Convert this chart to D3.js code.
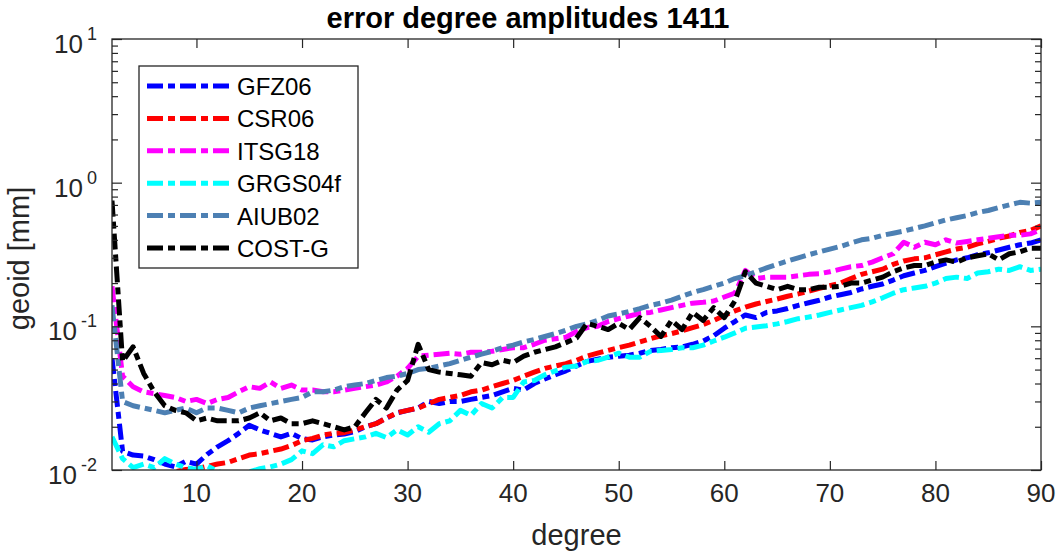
<!DOCTYPE html>
<html>
<head>
<meta charset="utf-8">
<script src="https://d3js.org/d3.v7.min.js"></script>
<style>
    body { margin: 0; background: #fff; }
    svg text { font-family: Helvetica, "Liberation Sans", Arial, sans-serif; }
</style>
</head>
<body>
<div id="chart"></div>
<script>
"use strict"

// degree axis (2..90)
var degrees = d3.range(2, 91);

var gfz06 = [
    0.06, 0.0135, 0.0127, 0.0125, 0.0118, 0.011, 0.0105, 0.0115, 0.011, 0.0128,
    0.0145, 0.016, 0.018, 0.0205, 0.019, 0.018, 0.017, 0.018, 0.0165, 0.0162,
    0.017, 0.0175, 0.0178, 0.0185, 0.020, 0.021, 0.023, 0.025, 0.026, 0.027,
    0.030, 0.029, 0.030, 0.030, 0.031, 0.032, 0.033, 0.035, 0.037, 0.036,
    0.040, 0.043, 0.046, 0.049, 0.053, 0.057, 0.059, 0.061, 0.062, 0.063,
    0.065, 0.068, 0.069, 0.071, 0.072, 0.075, 0.079, 0.086, 0.097, 0.108,
    0.12, 0.115, 0.125, 0.128, 0.133, 0.14, 0.146, 0.152, 0.16, 0.166,
    0.172, 0.182, 0.19, 0.197, 0.21, 0.225, 0.235, 0.245, 0.26, 0.275,
    0.29, 0.3, 0.315, 0.325, 0.34, 0.355, 0.37, 0.38, 0.4
];
var csr06 = [
    0.0085, 0.0087, 0.009, 0.0088, 0.0092, 0.0094, 0.0097, 0.0101, 0.0102, 0.0106,
    0.011, 0.0113, 0.012, 0.0127, 0.013, 0.0135, 0.014, 0.0148, 0.016, 0.0166,
    0.0175, 0.018, 0.0182, 0.019, 0.020, 0.021, 0.023, 0.025, 0.026, 0.027,
    0.029, 0.031, 0.032, 0.033, 0.035, 0.036, 0.038, 0.040, 0.042, 0.045,
    0.048, 0.051, 0.053, 0.055, 0.058, 0.062, 0.065, 0.068, 0.071, 0.074,
    0.078, 0.082, 0.086, 0.089, 0.093, 0.098, 0.103, 0.11, 0.119, 0.128,
    0.136, 0.143, 0.149, 0.155, 0.162, 0.168, 0.176, 0.184, 0.192, 0.2,
    0.215, 0.23, 0.24, 0.25, 0.27, 0.285, 0.295, 0.3, 0.315, 0.33,
    0.345, 0.355, 0.375, 0.39, 0.41, 0.425, 0.45, 0.465, 0.5
];
var itsg18 = [
    0.19, 0.045, 0.038, 0.035, 0.034, 0.033, 0.032, 0.030, 0.031, 0.029,
    0.031, 0.032, 0.035, 0.038, 0.037, 0.041, 0.037, 0.039, 0.036, 0.036,
    0.035, 0.035, 0.036, 0.037, 0.038, 0.039, 0.041, 0.045, 0.051, 0.062,
    0.063, 0.064, 0.065, 0.064, 0.066, 0.066, 0.067, 0.069, 0.071, 0.071,
    0.075, 0.08, 0.082, 0.084, 0.092, 0.098, 0.10, 0.108, 0.113, 0.118,
    0.123, 0.125, 0.13, 0.135, 0.14, 0.145, 0.147, 0.15, 0.16, 0.17,
    0.245, 0.215, 0.22, 0.22, 0.22, 0.225, 0.23, 0.232, 0.24, 0.25,
    0.26, 0.265, 0.28, 0.3, 0.32, 0.385, 0.355, 0.385, 0.37, 0.4,
    0.38, 0.39, 0.40, 0.41, 0.42, 0.43, 0.43, 0.44, 0.47
];
var grgs04f = [
    0.017, 0.012, 0.0104, 0.011, 0.0104, 0.012, 0.011, 0.0104, 0.0101, 0.0107,
    0.0098, 0.0092, 0.009, 0.0097, 0.0102, 0.0105, 0.011, 0.0118, 0.0136, 0.013,
    0.015, 0.0145, 0.016, 0.0165, 0.017, 0.018, 0.0168, 0.019, 0.0175, 0.020,
    0.0183, 0.021, 0.022, 0.026, 0.024, 0.029, 0.027, 0.032, 0.032, 0.041,
    0.042, 0.046, 0.049, 0.052, 0.053, 0.057, 0.058, 0.061, 0.065, 0.061,
    0.061, 0.067, 0.068, 0.069, 0.071, 0.071, 0.074, 0.079, 0.084, 0.09,
    0.097, 0.099, 0.101, 0.104, 0.108, 0.113, 0.116, 0.12, 0.125, 0.13,
    0.135, 0.14, 0.148, 0.158, 0.17, 0.18, 0.185, 0.19, 0.2, 0.215,
    0.22, 0.215, 0.235, 0.24, 0.25, 0.245, 0.26, 0.245, 0.25
];
var aiub02 = [
    0.14, 0.03, 0.028, 0.027, 0.026, 0.025, 0.026, 0.027, 0.025, 0.027,
    0.027, 0.026, 0.025, 0.027, 0.028, 0.029, 0.030, 0.031, 0.032, 0.035,
    0.035, 0.036, 0.038, 0.039, 0.040, 0.042, 0.044, 0.045, 0.047, 0.05,
    0.051, 0.053, 0.055, 0.058, 0.061, 0.064, 0.067, 0.071, 0.074, 0.078,
    0.081, 0.085, 0.089, 0.094, 0.1, 0.104, 0.11, 0.118, 0.122, 0.127,
    0.133, 0.14, 0.145, 0.152, 0.162, 0.172, 0.18, 0.19, 0.2, 0.215,
    0.225, 0.24, 0.255, 0.27, 0.285, 0.3, 0.315, 0.33, 0.345, 0.36,
    0.38, 0.4, 0.41, 0.43, 0.445, 0.46, 0.48, 0.5, 0.525, 0.55,
    0.57, 0.59, 0.62, 0.64, 0.67, 0.7, 0.73, 0.72, 0.73
];
var costg = [
    0.75, 0.057, 0.072, 0.047, 0.035, 0.028, 0.026, 0.025, 0.022, 0.023,
    0.022, 0.022, 0.022, 0.023, 0.025, 0.022, 0.023, 0.021, 0.021, 0.022,
    0.021, 0.020, 0.019, 0.020, 0.025, 0.031, 0.027, 0.036, 0.042, 0.075,
    0.05, 0.048, 0.047, 0.046, 0.045, 0.056, 0.054, 0.058, 0.056, 0.062,
    0.066, 0.069, 0.072, 0.077, 0.083, 0.105, 0.10, 0.095, 0.105, 0.095,
    0.115, 0.10, 0.085, 0.11, 0.095, 0.125, 0.11, 0.135, 0.115, 0.15,
    0.24, 0.2, 0.19, 0.18, 0.19, 0.18, 0.18, 0.187, 0.187, 0.19,
    0.2, 0.2, 0.21, 0.22, 0.24, 0.255, 0.265, 0.265, 0.28, 0.29,
    0.28, 0.3, 0.31, 0.32, 0.29, 0.32, 0.33, 0.35, 0.35
];

var seriesNames = ["GFZ06", "CSR06", "ITSG18", "GRGS04f", "AIUB02", "COST-G"];
var seriesValues = [gfz06, csr06, itsg18, grgs04f, aiub02, costg];
var seriesColors = ["#0000ff", "#ff0000", "#ff00ff", "#00ffff", "#4d80b3", "#000000"];

var xTicks = [10, 20, 30, 40, 50, 60, 70, 80, 90];
var yMajor = [0.01, 0.1, 1, 10];
var yExponents = ["-2", "-1", "0", "1"];

var width = 1056, height = 556;
var margin = { top: 39, right: 15, bottom: 86, left: 112 };
var plotW = width - margin.left - margin.right;
var plotH = height - margin.top - margin.bottom;
var axisColor = "#262626";
var dash = "16,5,7,5";
var lineW = 5;

var svg = d3.select("#chart").append("svg")
    .attr("width", width)
    .attr("height", height);

var x = d3.scaleLinear().domain([2, 90]).range([0, plotW]);
var y = d3.scaleLog().domain([0.01, 10]).range([plotH, 0]);

var yMinor = [];
yMajor.slice(0, 3).forEach(function (p) {
    for (var k = 2; k <= 9; k++) yMinor.push(p * k);
});

svg.append("defs").append("clipPath")
    .attr("id", "plot-clip")
    .append("rect")
    .attr("width", plotW)
    .attr("height", plotH);

var graph = svg.append("g")
    .attr("transform", "translate(" + margin.left + "," + margin.top + ")");

// lines
var line = d3.line()
    .x(function (d, i) { return x(degrees[i]); })
    .y(function (d) { return y(d); });

var lines = graph.append("g").attr("clip-path", "url(#plot-clip)");
lines.selectAll("path")
    .data(seriesValues)
    .enter()
    .append("path")
    .attr("d", line)
    .attr("fill", "none")
    .attr("stroke", function (d, i) { return seriesColors[i]; })
    .attr("stroke-width", lineW)
    .attr("stroke-dasharray", dash)
    .attr("stroke-linejoin", "round");

// axes, ticks inside like matlab
function styleAxis(g) {
    g.select(".domain").remove();
    g.selectAll("line").attr("stroke", axisColor).attr("stroke-width", 1.2);
}

graph.append("g")
    .attr("transform", "translate(0," + plotH + ")")
    .call(d3.axisBottom(x).tickValues(xTicks).tickSize(-9).tickFormat(""))
    .call(styleAxis);
graph.append("g")
    .call(d3.axisTop(x).tickValues(xTicks).tickSize(-9).tickFormat(""))
    .call(styleAxis);

graph.append("g")
    .call(d3.axisLeft(y).tickValues(yMajor).tickSize(-10).tickFormat(""))
    .call(styleAxis);
graph.append("g")
    .call(d3.axisLeft(y).tickValues(yMinor).tickSize(-6).tickFormat(""))
    .call(styleAxis);
graph.append("g")
    .attr("transform", "translate(" + plotW + ",0)")
    .call(d3.axisRight(y).tickValues(yMajor).tickSize(-10).tickFormat(""))
    .call(styleAxis);
graph.append("g")
    .attr("transform", "translate(" + plotW + ",0)")
    .call(d3.axisRight(y).tickValues(yMinor).tickSize(-6).tickFormat(""))
    .call(styleAxis);

graph.append("rect")
    .attr("width", plotW)
    .attr("height", plotH)
    .attr("fill", "none")
    .attr("stroke", axisColor)
    .attr("stroke-width", 1.3);

// tick labels
graph.selectAll(".xlab")
    .data(xTicks)
    .enter()
    .append("text")
    .attr("x", function (d) { return x(d); })
    .attr("y", plotH + 32)
    .attr("text-anchor", "middle")
    .attr("fill", axisColor)
    .style("font-size", "26px")
    .text(function (d) { return d; });

var ylab = graph.selectAll(".ylab")
    .data(yMajor)
    .enter()
    .append("text")
    .attr("x", -15)
    .attr("y", function (d) { return y(d) + 14; })
    .attr("text-anchor", "end")
    .attr("fill", axisColor)
    .style("font-size", "26px");
ylab.append("tspan").text("10");
ylab.append("tspan")
    .attr("dx", 4)
    .attr("dy", -13)
    .style("font-size", "18px")
    .text(function (d, i) { return yExponents[i]; });

// axis titles
graph.append("text")
    .attr("x", plotW / 2)
    .attr("y", plotH + 75)
    .attr("text-anchor", "middle")
    .attr("fill", axisColor)
    .style("font-size", "29px")
    .text("degree");

graph.append("text")
    .attr("transform", "translate(-83," + (plotH / 2 + 4) + ") rotate(-90)")
    .attr("text-anchor", "middle")
    .attr("fill", axisColor)
    .style("font-size", "29px")
    .text("geoid [mm]");

svg.append("text")
    .attr("x", 528)
    .attr("y", 28)
    .attr("text-anchor", "middle")
    .attr("fill", "#000")
    .style("font-size", "29px")
    .style("font-weight", "bold")
    .text("error degree amplitudes 1411");

// legend
var legend = graph.append("g").attr("transform", "translate(27,27)");
legend.append("rect")
    .attr("width", 219)
    .attr("height", 202)
    .attr("fill", "#fff")
    .attr("stroke", axisColor)
    .attr("stroke-width", 1.3);

var item = legend.selectAll(".item")
    .data(seriesNames)
    .enter()
    .append("g")
    .attr("transform", function (d, i) { return "translate(0," + (20 + i * 32.4) + ")"; });
item.append("line")
    .attr("x1", 8)
    .attr("x2", 91)
    .attr("stroke", function (d, i) { return seriesColors[i]; })
    .attr("stroke-width", lineW)
    .attr("stroke-dasharray", dash);
item.append("text")
    .attr("x", 98)
    .attr("y", 9)
    .style("font-size", "24px")
    .attr("fill", "#000")
    .text(function (d) { return d; });
</script>
</body>
</html>
